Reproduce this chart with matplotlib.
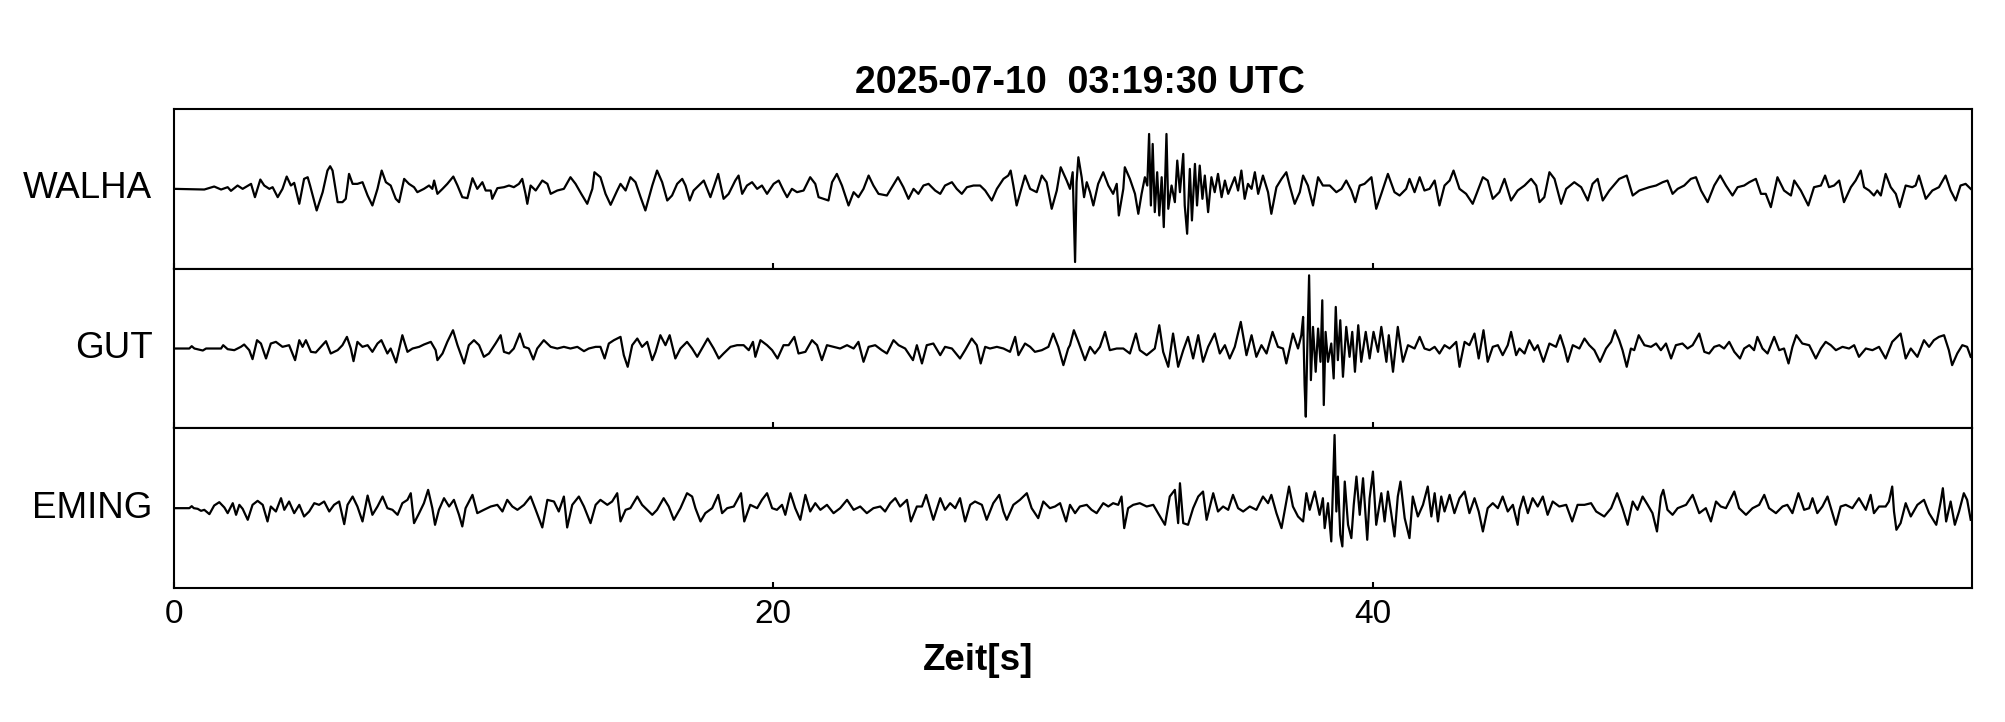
import numpy as np
import matplotlib
matplotlib.use('Agg')
import matplotlib.pyplot as plt

plt.rcParams['font.family'] = ['Liberation Sans', 'DejaVu Sans']

title = '2025-07-10  03:19:30 UTC'
stations = ['WALHA', 'GUT', 'EMING']
x_ticks = [0, 20, 40]
x_max = 60
amp_max = 240

walha = [
    (0.00, 0), (1.01, -2), (1.34, 7), (1.57, -2), (1.79, 5), (1.90, -6), (2.12, 10), (2.29, 0),
    (2.57, 15), (2.70, -25), (2.88, 28), (3.01, 10), (3.18, 0), (3.29, 5), (3.46, -25), (3.62, 0),
    (3.76, 37), (3.90, 10), (4.01, 18), (4.18, -45), (4.34, 30), (4.46, 35), (4.54, 10), (4.76, -65),
    (4.96, -10), (5.12, 55), (5.21, 68), (5.29, 55), (5.46, -40), (5.62, -40), (5.73, -30), (5.84, 45),
    (5.96, 15), (6.12, 15), (6.29, 20), (6.46, -20), (6.62, -50), (6.79, 0), (6.93, 55), (7.07, 20),
    (7.23, 10), (7.40, -30), (7.51, -40), (7.68, 30), (7.84, 15), (8.01, 5), (8.12, -10), (8.34, 0),
    (8.51, 10), (8.62, 0), (8.68, 25), (8.79, -15), (8.96, 0), (9.12, 15), (9.32, 37), (9.46, 10),
    (9.62, -25), (9.79, -28), (9.96, 32), (10.12, 0), (10.29, 20), (10.40, -5), (10.57, -5), (10.62, -30),
    (10.79, 2), (11.01, 5), (11.18, 10), (11.34, 5), (11.51, 15), (11.62, 30), (11.73, -15), (11.79, -45),
    (11.90, 10), (12.07, -5), (12.29, 25), (12.46, 15), (12.57, -15), (12.79, -5), (13.01, 0), (13.23, 35),
    (13.40, 15), (13.59, -15), (13.79, -45), (13.96, 0), (14.03, 50), (14.23, 35), (14.40, -15), (14.57, -48),
    (14.79, -5), (14.90, 15), (15.07, -5), (15.23, 35), (15.40, 20), (15.57, -25), (15.73, -65), (15.96, 10),
    (16.12, 55), (16.29, 20), (16.46, -35), (16.62, -20), (16.79, 15), (16.96, 30), (17.07, 10), (17.21, -35),
    (17.34, -5), (17.51, 10), (17.68, 25), (17.90, -25), (18.16, 45), (18.34, -30), (18.51, -15), (18.73, 25),
    (18.84, 40), (18.96, -15), (19.12, 10), (19.29, 20), (19.46, 0), (19.62, 10), (19.79, -15), (20.01, 15),
    (20.18, 25), (20.34, -5), (20.46, -25), (20.62, 0), (20.79, -10), (21.01, -5), (21.23, 35), (21.40, 15),
    (21.51, -25), (21.68, -30), (21.84, -35), (21.96, 20), (22.12, 45), (22.29, 10), (22.51, -50), (22.68, -10),
    (22.84, -25), (23.01, 0), (23.18, 40), (23.34, 10), (23.51, -15), (23.79, -20), (23.96, 5), (24.16, 35),
    (24.34, 5), (24.51, -30), (24.68, 0), (24.84, -15), (25.01, 10), (25.18, 15), (25.40, -5), (25.57, -15),
    (25.73, 10), (25.96, 20), (26.12, 0), (26.29, -15), (26.46, 5), (26.68, 10), (26.90, 10), (27.07, -5),
    (27.29, -35), (27.46, 0), (27.68, 30), (27.84, 40), (27.92, 55), (28.01, 10), (28.12, -50), (28.23, -15),
    (28.40, 40), (28.57, 0), (28.79, -10), (28.96, 40), (29.12, 20), (29.29, -60), (29.46, -5), (29.59, 65),
    (29.79, 25), (29.90, 0), (29.99, 50), (30.07, -220), (30.12, 20), (30.18, 95), (30.29, 35), (30.37, -25),
    (30.46, 20), (30.57, -10), (30.68, -50), (30.84, 15), (31.01, 50), (31.18, 10), (31.34, -15), (31.46, 15),
    (31.53, -80), (31.68, 0), (31.73, 65), (31.90, 30), (32.07, -15), (32.18, -75), (32.29, -15), (32.40, 35),
    (32.48, 10), (32.54, 165), (32.60, -50), (32.66, 135), (32.73, -70), (32.81, 50), (32.88, -80), (32.96, 35),
    (33.03, -115), (33.12, 165), (33.18, -60), (33.29, 10), (33.40, -40), (33.48, 85), (33.57, -10), (33.68, 105),
    (33.73, -50), (33.81, -135), (33.90, 60), (33.97, -95), (34.07, 75), (34.14, -50), (34.23, 70), (34.32, -30),
    (34.40, 40), (34.51, -70), (34.62, 35), (34.73, -10), (34.84, 45), (34.96, -25), (35.07, 25), (35.18, -15),
    (35.29, 10), (35.40, 35), (35.51, -5), (35.62, 55), (35.73, -30), (35.84, 15), (35.96, 0), (36.07, 50),
    (36.18, -15), (36.34, 40), (36.51, -10), (36.62, -75), (36.79, 5), (36.96, 30), (37.12, 50), (37.23, 10),
    (37.40, -45), (37.57, -10), (37.68, 40), (37.84, 10), (38.01, -50), (38.18, 35), (38.34, 10), (38.57, 10),
    (38.79, -10), (38.96, 0), (39.12, 25), (39.29, -5), (39.42, -40), (39.57, 10), (39.73, 15), (39.96, 35),
    (40.12, -60), (40.29, -15), (40.51, 45), (40.73, -10), (40.90, -20), (41.12, 0), (41.23, 30), (41.40, -10),
    (41.57, 35), (41.73, -5), (41.90, 0), (42.07, 25), (42.23, -50), (42.40, 10), (42.57, 25), (42.70, 55),
    (42.90, 0), (43.12, -15), (43.34, -45), (43.51, -5), (43.68, 35), (43.84, 25), (44.01, -30), (44.23, -10),
    (44.40, 30), (44.62, -35), (44.84, -5), (45.07, 10), (45.29, 30), (45.46, 10), (45.57, -40), (45.73, -25),
    (45.90, 50), (46.07, 30), (46.29, -45), (46.46, 0), (46.73, 20), (46.96, 5), (47.18, -35), (47.34, 15),
    (47.51, 30), (47.68, -35), (47.90, -5), (48.23, 30), (48.48, 40), (48.68, -20), (48.90, -5), (49.23, 5),
    (49.46, 10), (49.68, 20), (49.84, 25), (50.01, -15), (50.18, 0), (50.40, 10), (50.62, 30), (50.79, 35),
    (50.96, -5), (51.18, -40), (51.40, 10), (51.60, 40), (51.79, 10), (52.01, -20), (52.18, 5), (52.40, 10),
    (52.57, 20), (52.79, 30), (52.96, -15), (53.12, -15), (53.29, -55), (53.51, 35), (53.73, -5), (53.96, -20),
    (54.07, 25), (54.29, -5), (54.54, -50), (54.73, 5), (54.96, 10), (55.10, 40), (55.23, 5), (55.40, 10),
    (55.57, 25), (55.73, -40), (55.96, 5), (56.12, 25), (56.29, 55), (56.40, 5), (56.57, -5), (56.73, -20),
    (56.84, -5), (56.96, -20), (57.12, 45), (57.29, 5), (57.46, -15), (57.59, -55), (57.79, 10), (58.01, 5),
    (58.12, 10), (58.23, 40), (58.46, -30), (58.68, -5), (58.90, 5), (59.12, 40), (59.29, -5), (59.46, -35),
    (59.62, 10), (59.79, 15), (59.96, 0),
]

gut = [
    (0.00, 0), (0.51, 0), (0.59, 7), (0.68, 0), (0.96, -6), (1.07, 0), (1.57, 0), (1.64, 10),
    (1.79, -2), (2.01, -5), (2.23, 5), (2.34, 12), (2.51, -5), (2.62, -32), (2.77, 25), (2.90, 15),
    (3.07, -30), (3.23, 15), (3.40, 20), (3.62, 5), (3.84, 10), (4.04, -35), (4.18, 25), (4.29, 5),
    (4.40, 25), (4.57, -10), (4.73, -12), (4.90, 5), (5.07, 22), (5.23, -15), (5.46, -5), (5.62, 10),
    (5.77, 35), (5.90, 0), (5.99, -38), (6.12, 20), (6.29, 5), (6.46, 10), (6.62, -10), (6.79, 15),
    (6.92, 25), (7.12, -15), (7.23, 0), (7.41, -42), (7.62, 40), (7.79, -10), (7.96, 0), (8.18, 5),
    (8.34, 12), (8.57, 20), (8.73, -5), (8.79, -35), (8.96, -15), (9.12, 20), (9.31, 55), (9.46, 10),
    (9.68, -45), (9.84, 10), (10.01, 25), (10.18, 10), (10.34, -25), (10.51, -15), (10.73, 15), (10.90, 40),
    (11.01, -10), (11.18, -15), (11.34, 0), (11.54, 45), (11.68, 5), (11.84, 0), (11.99, -33), (12.12, 0),
    (12.34, 25), (12.57, 5), (12.79, 0), (13.01, 5), (13.23, 0), (13.46, 5), (13.68, -8), (13.84, 0),
    (14.07, 5), (14.23, 5), (14.37, -30), (14.51, 15), (14.68, 25), (14.90, 35), (15.01, -20), (15.14, -55),
    (15.29, 10), (15.46, 30), (15.62, 5), (15.79, 20), (15.96, -35), (16.07, -10), (16.23, 40), (16.40, 10),
    (16.54, 40), (16.73, -30), (16.90, 0), (17.12, 20), (17.29, 0), (17.46, -25), (17.62, 0), (17.81, 30),
    (18.01, 0), (18.18, -30), (18.34, -15), (18.57, 5), (18.79, 10), (19.01, 10), (19.18, -5), (19.32, 20),
    (19.40, -25), (19.57, 25), (19.79, 10), (19.96, -5), (20.14, -30), (20.34, 10), (20.51, 10), (20.70, 35),
    (20.84, -15), (21.07, -10), (21.29, 25), (21.46, 10), (21.62, -35), (21.79, 10), (22.01, 5), (22.23, 0),
    (22.46, 10), (22.68, 0), (22.84, 20), (23.01, -40), (23.18, 5), (23.40, 10), (23.62, -5), (23.79, -15),
    (24.01, 25), (24.18, 10), (24.40, 0), (24.66, -35), (24.79, 10), (24.96, -45), (25.12, 10), (25.34, 15),
    (25.57, -20), (25.73, 5), (25.96, 0), (26.23, -30), (26.40, -5), (26.62, 30), (26.79, 10), (26.92, -45),
    (27.07, 5), (27.23, 0), (27.46, 5), (27.68, 0), (27.90, -10), (28.07, 35), (28.18, -20), (28.40, 15),
    (28.57, 5), (28.73, -10), (28.96, -5), (29.18, 5), (29.34, 45), (29.51, 5), (29.68, -50), (29.84, 0),
    (29.90, 10), (30.03, 55), (30.18, 20), (30.40, -35), (30.57, 5), (30.73, -15), (30.90, 5), (31.07, 50),
    (31.23, -5), (31.46, 0), (31.68, 0), (31.90, -15), (32.10, 45), (32.23, -5), (32.46, -20), (32.73, 0),
    (32.88, 70), (33.01, -10), (33.18, -55), (33.34, 45), (33.51, -55), (33.68, -5), (33.84, 35), (34.01, -30),
    (34.18, 40), (34.34, -40), (34.51, 5), (34.73, 45), (34.90, -15), (35.07, 10), (35.23, -30), (35.40, 5),
    (35.60, 80), (35.79, -20), (35.96, 40), (36.12, -25), (36.29, 10), (36.46, -15), (36.66, 50), (36.84, 5),
    (37.01, 0), (37.12, -45), (37.23, 0), (37.34, 45), (37.51, 0), (37.62, 40), (37.68, 95), (37.73, -110),
    (37.77, -205), (37.82, 0), (37.88, 220), (37.94, -95), (38.01, 65), (38.10, -70), (38.18, 60), (38.26, -40),
    (38.32, 145), (38.37, -170), (38.43, 50), (38.51, -40), (38.62, 15), (38.70, -90), (38.77, 125), (38.84, -35),
    (38.92, 85), (39.01, -85), (39.12, 65), (39.23, -25), (39.32, 50), (39.41, -70), (39.52, 70), (39.62, -40),
    (39.77, 50), (39.90, -30), (40.03, 50), (40.18, -10), (40.29, 65), (40.46, -40), (40.54, 40), (40.68, -70),
    (40.84, 65), (41.01, -40), (41.18, 10), (41.40, 0), (41.57, 35), (41.73, 0), (41.90, -5), (42.07, 5),
    (42.23, -15), (42.40, 10), (42.57, 0), (42.79, 20), (42.90, -55), (43.07, 20), (43.23, 10), (43.40, 45),
    (43.54, -30), (43.70, 55), (43.84, -40), (44.01, 5), (44.18, 10), (44.34, -20), (44.51, 10), (44.62, 50),
    (44.79, -20), (44.90, 0), (45.07, -15), (45.23, 25), (45.40, -5), (45.51, 10), (45.70, -40), (45.90, 15),
    (46.12, 5), (46.26, 40), (46.40, 0), (46.51, -40), (46.68, 10), (46.90, 0), (47.07, 30), (47.23, 10),
    (47.40, -5), (47.59, -40), (47.79, 0), (47.96, 20), (48.09, 55), (48.23, 25), (48.34, -5), (48.48, -55),
    (48.62, 0), (48.73, -5), (48.88, 40), (49.07, 10), (49.29, 5), (49.46, 15), (49.62, -5), (49.79, 15),
    (49.96, -30), (50.12, 10), (50.34, 15), (50.51, 0), (50.68, 10), (50.90, 45), (51.07, -10), (51.23, -15),
    (51.40, 5), (51.57, 10), (51.73, 0), (51.90, 20), (52.07, -10), (52.26, -30), (52.40, 0), (52.57, 10),
    (52.73, -5), (52.84, 35), (53.01, 0), (53.18, -15), (53.40, 35), (53.57, -5), (53.73, 0), (53.88, -45),
    (54.01, 5), (54.14, 40), (54.34, 15), (54.57, 10), (54.79, -30), (54.96, 0), (55.12, 20), (55.29, 10),
    (55.46, -5), (55.68, 5), (55.90, 0), (56.07, 10), (56.23, -25), (56.46, 0), (56.68, -5), (56.90, 5),
    (57.12, -30), (57.34, 20), (57.51, 35), (57.62, 45), (57.79, -30), (57.96, 0), (58.18, -25), (58.40, 25),
    (58.57, 5), (58.73, 25), (58.90, 35), (59.07, 40), (59.23, -5), (59.34, -50), (59.51, -15), (59.68, 10),
    (59.84, 5), (59.96, -25),
]

eming = [
    (0.00, 0), (0.51, 0), (0.59, 6), (0.66, 0), (0.79, -2), (0.90, -8), (1.01, -5), (1.18, -18),
    (1.34, 8), (1.51, 18), (1.68, 2), (1.79, -15), (1.96, 15), (2.07, -20), (2.18, 10), (2.29, -2),
    (2.46, -35), (2.62, 10), (2.79, 22), (2.96, 10), (3.12, -40), (3.23, 5), (3.40, -10), (3.57, 30),
    (3.68, -5), (3.84, 20), (4.01, -15), (4.18, 10), (4.34, -25), (4.51, -10), (4.68, 15), (4.84, 10),
    (5.01, 20), (5.18, -10), (5.34, 10), (5.51, 20), (5.68, -48), (5.79, 10), (5.96, 35), (6.12, 5),
    (6.29, -40), (6.46, 38), (6.62, -20), (6.79, 5), (6.96, 35), (7.12, 0), (7.29, -5), (7.46, -20),
    (7.62, 15), (7.79, 25), (7.90, 45), (8.01, -45), (8.18, -15), (8.34, 15), (8.48, 55), (8.62, 0),
    (8.71, -50), (8.84, -5), (9.01, 30), (9.18, 5), (9.34, 25), (9.51, -20), (9.62, -55), (9.73, 0),
    (9.96, 40), (10.12, -15), (10.34, -5), (10.57, 5), (10.79, 10), (10.96, -10), (11.12, 25), (11.29, 5),
    (11.46, -5), (11.68, 10), (11.90, 35), (12.07, -5), (12.29, -58), (12.46, 25), (12.68, 20), (12.84, -10),
    (13.01, 35), (13.12, -58), (13.29, 10), (13.51, 35), (13.68, 5), (13.90, -45), (14.07, 10), (14.23, 25),
    (14.46, 10), (14.62, 20), (14.79, 45), (14.90, -40), (15.07, -5), (15.23, 0), (15.46, 35), (15.62, 10),
    (15.79, -5), (15.96, -20), (16.12, -5), (16.34, 30), (16.51, 5), (16.68, -35), (16.90, 0), (17.12, 45),
    (17.29, 35), (17.40, 0), (17.57, -40), (17.73, -15), (17.96, 0), (18.16, 40), (18.29, -15), (18.46, 0),
    (18.68, 5), (18.92, 45), (19.03, -40), (19.23, 10), (19.46, 0), (19.62, 25), (19.79, 45), (19.96, 0),
    (20.12, -5), (20.29, 10), (20.40, -20), (20.57, 45), (20.73, 0), (20.90, -35), (21.07, 40), (21.23, -10),
    (21.40, 15), (21.57, -5), (21.79, 10), (22.01, -15), (22.23, 0), (22.46, 25), (22.68, -5), (22.90, 5),
    (23.12, -15), (23.34, 0), (23.57, 5), (23.73, -10), (23.90, 15), (24.07, 30), (24.23, 5), (24.46, 25),
    (24.59, -40), (24.79, 5), (24.96, 5), (25.10, 40), (25.34, -35), (25.57, 30), (25.73, -5), (25.90, 15),
    (26.07, 0), (26.23, 30), (26.40, -40), (26.57, 10), (26.73, 20), (26.96, 10), (27.12, -35), (27.34, 15),
    (27.54, 40), (27.68, -10), (27.79, -35), (28.01, 10), (28.23, 25), (28.46, 45), (28.62, 0), (28.84, -30),
    (29.01, 20), (29.23, 0), (29.40, 5), (29.57, 15), (29.77, -40), (29.90, 10), (30.07, -15), (30.23, 5),
    (30.46, 10), (30.62, -5), (30.79, -15), (31.01, 15), (31.18, 5), (31.34, 15), (31.51, 10), (31.62, 35),
    (31.71, -60), (31.84, 0), (32.01, 10), (32.23, 15), (32.46, 5), (32.68, 10), (32.84, -15), (33.07, -50),
    (33.23, 35), (33.40, 55), (33.51, -45), (33.57, 75), (33.68, -45), (33.84, -50), (34.01, 0), (34.18, 35),
    (34.34, 50), (34.46, -35), (34.68, 45), (34.84, -10), (35.01, 5), (35.18, -5), (35.34, 40), (35.51, 0),
    (35.68, -10), (35.90, 5), (36.12, -5), (36.34, 35), (36.51, 15), (36.62, 40), (36.79, -15), (36.96, -60),
    (37.07, -5), (37.21, 65), (37.34, 5), (37.51, -25), (37.68, -40), (37.79, 45), (37.90, -5), (38.07, 50),
    (38.23, -20), (38.34, 30), (38.40, -60), (38.51, 15), (38.62, -100), (38.73, 220), (38.79, -10), (38.84, 95),
    (38.92, -80), (38.99, -115), (39.07, 80), (39.18, -50), (39.29, -90), (39.37, 10), (39.46, 95), (39.57, -20),
    (39.68, 90), (39.82, -95), (39.90, 30), (40.01, 110), (40.12, -50), (40.29, 45), (40.40, -40), (40.51, 50),
    (40.62, -15), (40.73, -85), (40.84, 35), (40.93, 80), (41.07, -30), (41.23, -90), (41.34, 35), (41.51, -25),
    (41.68, 10), (41.84, 65), (41.96, -25), (42.07, 45), (42.18, -40), (42.29, 35), (42.40, -10), (42.57, 40),
    (42.73, -15), (42.90, 30), (43.07, 50), (43.23, -15), (43.40, 30), (43.54, -10), (43.68, -70), (43.84, 0),
    (44.01, 15), (44.18, 0), (44.34, 35), (44.51, -10), (44.68, 10), (44.84, -50), (44.90, -5), (45.03, 35),
    (45.18, -15), (45.34, 30), (45.51, 5), (45.68, 35), (45.84, -20), (46.01, 20), (46.23, 5), (46.46, 10),
    (46.66, -40), (46.84, 10), (47.07, 10), (47.29, 15), (47.46, -10), (47.73, -25), (47.96, 0), (48.16, 45),
    (48.34, 0), (48.51, -50), (48.68, 20), (48.84, -5), (49.01, 35), (49.18, 10), (49.34, -15), (49.49, -70),
    (49.62, 35), (49.70, 55), (49.84, -5), (50.01, -20), (50.18, 0), (50.46, 10), (50.68, 40), (50.90, -15),
    (51.12, 0), (51.29, -40), (51.46, 20), (51.62, 5), (51.79, 0), (51.96, 30), (52.07, 50), (52.23, 0),
    (52.46, -20), (52.68, 0), (52.90, 10), (53.07, 40), (53.23, 0), (53.46, -15), (53.68, 5), (53.84, 10),
    (54.01, -15), (54.21, 45), (54.40, -5), (54.57, 0), (54.68, 30), (54.84, -15), (55.01, 5), (55.18, 35),
    (55.46, -50), (55.62, 5), (55.79, 10), (56.01, 0), (56.23, 30), (56.46, -5), (56.62, 40), (56.73, -15),
    (56.90, 5), (57.12, 5), (57.23, 20), (57.34, 65), (57.40, -10), (57.48, -65), (57.62, -45), (57.79, 15),
    (57.96, -25), (58.18, 10), (58.40, 25), (58.57, -15), (58.81, -50), (58.96, 20), (59.03, 60), (59.14, -40),
    (59.29, 20), (59.43, -50), (59.57, -10), (59.73, 45), (59.84, 25), (59.96, -35),
]

traces = [walha, gut, eming]

fig = plt.figure(figsize=(20.05, 7.22), dpi=100)

# Achsenbereich wie im Original (Anteile der Abbildung)
left, right = 0.0868, 0.9835
top, bottom = 0.849, 0.1856
h = (top - bottom) / 3

for i, (name, tr) in enumerate(zip(stations, traces)):
    ax = fig.add_axes([left, top - (i + 1) * h, right - left, h])
    t, a = np.array(tr, dtype=float).T
    ax.plot(t, a, color='black', lw=1.6)
    ax.set_xlim(0, x_max)
    ax.set_ylim(-amp_max, amp_max)
    ax.set_yticks([])
    ax.set_xticks(x_ticks)
    ax.tick_params(axis='x', direction='in', length=4, width=1.5, labelsize=24, pad=8)
    if i < 2:
        ax.tick_params(labelbottom=False)
    for s in ax.spines.values():
        s.set_linewidth(1.5)
    # Stationsname links neben der Spur
    ax.text(-0.012, 0.5, name, transform=ax.transAxes, ha='right', va='center', fontsize=26.5)

fig.text(1080 / 2005, 1 - 83 / 722, title, ha='center', va='center',
         fontsize=27, fontweight='bold')
fig.text(978 / 2005, 1 - 660 / 722, 'Zeit[s]', ha='center', va='center',
         fontsize=26.5, fontweight='bold')

fig.savefig('out.png', dpi=100)
